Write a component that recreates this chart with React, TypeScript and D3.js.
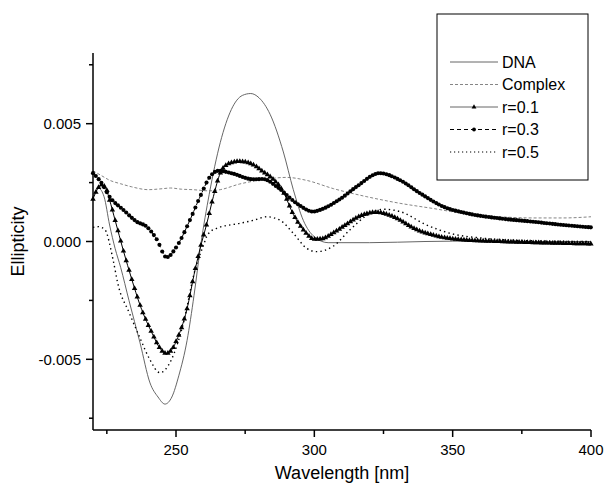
import React, { useEffect, useRef } from "react";
import * as d3 from "d3";

const W = 607;
const H = 488;

const xTicksMajor = [250, 300, 350, 400];
const xTicksMinor = [225, 275, 325, 375];
const yTicksMajor = [-0.005, 0, 0.005];
const yTickLabels = ["-0.005", "0.000", "0.005"];
const yTicksMinor = [-0.0075, -0.0025, 0.0025, 0.0075];

const dnaWl = [220, 222, 224, 226, 228, 230, 233, 237, 240.6, 243.5, 246, 248.5, 251, 254, 256.5, 259, 262, 266, 270, 274, 277, 280, 284, 288.8, 292.4, 296, 300, 305, 320, 340, 360, 380, 400];
const dnaVal = [0.0019, 0.00226, 0.0019, 0.0007, -0.0003, -0.0011, -0.0025, -0.0043, -0.006, -0.0066, -0.0069, -0.0066, -0.0057, -0.0042, -0.0023, -0.0001, 0.002, 0.0042, 0.0056, 0.0062, 0.00628, 0.0061, 0.0054, 0.0038, 0.0022, 0.0009, 0.0002, -0.00005, -0.00005, 0, 0.00002, 0, 0];

const complexWl = [220, 223, 226, 230, 234, 240, 245, 248, 252, 256, 262, 266, 273, 280, 290, 297, 307, 319, 331, 343, 355, 367, 379, 390, 400];
const complexVal = [0.003, 0.0028, 0.0026, 0.00245, 0.00232, 0.0022, 0.00224, 0.00227, 0.00222, 0.0022, 0.00215, 0.0022, 0.00244, 0.0026, 0.00272, 0.0026, 0.00224, 0.0019, 0.00162, 0.0014, 0.00117, 0.00105, 0.001, 0.001, 0.00105];

const r01Wl = [220, 221.5, 223, 224.5, 226, 228, 231, 234, 237, 241.8, 244, 246.5, 249, 250.2, 253.9, 256.9, 258.7, 261, 263.5, 266, 269, 273, 278, 281, 284, 288.8, 292.4, 296, 300, 303, 306, 310.4, 316.5, 322.5, 328.5, 337, 345.4, 355, 367, 380, 400];
const r01Val = [0.0018, 0.0022, 0.0024, 0.0023, 0.00176, 0.0009, -0.0004, -0.0016, -0.0027, -0.004, -0.0045, -0.00475, -0.0045, -0.0042, -0.0029, -0.0012, -0.0003, 0.0007, 0.0019, 0.0029, 0.0033, 0.0034, 0.00325, 0.003, 0.00275, 0.0021, 0.00115, 0.0005, 0.0001, 0.00012, 0.0003, 0.00063, 0.00108, 0.00124, 0.00105, 0.0005, 0.0002, 0.00006, 0, -0.00005, -0.0001];

const r03Wl = [220, 223, 226, 231, 235.8, 239.4, 243, 246.6, 250.2, 255, 258.7, 262.3, 265.3, 270, 277.9, 281.5, 286.4, 293.6, 299.6, 302, 309.3, 315.3, 323.7, 331, 338.2, 346.6, 355, 367, 379, 390, 400];
const r03Val = [0.0029, 0.0025, 0.0019, 0.00134, 0.00084, 0.00063, 0.0001, -0.00067, -0.00022, 0.0009, 0.0019, 0.00275, 0.003, 0.0029, 0.00264, 0.00265, 0.00233, 0.00162, 0.00127, 0.00134, 0.0018, 0.00233, 0.0029, 0.0026, 0.00205, 0.00148, 0.0012, 0.00098, 0.00084, 0.0007, 0.0006];

const r05Wl = [220, 222, 224.3, 227.3, 229, 233, 237, 240.5, 244.2, 248.4, 252.6, 256.9, 259.8, 261.5, 264.7, 273, 278, 282.7, 287.5, 292.4, 297.2, 300.8, 306.8, 312.9, 318.9, 324.9, 331, 340.6, 349, 361, 379, 400];
const r05Val = [0.0006, 0.00063, 0.0005, -0.0008, -0.0018, -0.003, -0.0041, -0.005, -0.00557, -0.005, -0.0035, -0.0012, -0.0002, 0.0003, 0.00056, 0.00077, 0.0009, 0.00105, 0.00091, 0.00035, -0.00029, -0.00043, -0.0002, 0.0005, 0.0011, 0.00137, 0.00127, 0.0007, 0.00035, 0.00014, 0.00003, 0];

const legendLabels = ["DNA", "Complex", "r=0.1", "r=0.3", "r=0.5"];

const FONT = "'Liberation Sans', Arial, sans-serif";

const x = d3.scaleLinear().domain([220, 400]).range([93, 591]);
const y = d3.scaleLinear().domain([-0.008, 0.008]).range([430, 53]);

const toPts = (wl: number[], v: number[]) => wl.map((w, i) => [w, v[i]] as [number, number]);
const line = d3
  .line<[number, number]>()
  .x((d) => x(d[0]))
  .y((d) => y(d[1]))
  .curve(d3.curveMonotoneX);

const TRI_SIZE = 13;
const CIRC_R = 2.05;

const markerSeries = [
  { id: "r01", wl: r01Wl, val: r01Val, shape: "tri" },
  { id: "r03", wl: r03Wl, val: r03Val, shape: "circ" },
];

export default function App() {
  const ref = useRef<SVGSVGElement>(null);

  useEffect(() => {
    const svg = d3.select(ref.current);
    markerSeries.forEach((s) => {
      const node = svg.select(`#path-${s.id}`).node() as SVGPathElement;
      if (!node) return;
      const L = node.getTotalLength();
      const samples: { x: number; y: number }[] = [];
      for (let t = 0; t <= L; t += 0.25) {
        const p = node.getPointAtLength(t);
        samples.push({ x: p.x, y: p.y });
      }
      const pts: { x: number; y: number }[] = [];
      let j = 0;
      for (let wl = s.wl[0]; wl <= s.wl[s.wl.length - 1] + 1e-9; wl += 1) {
        const tx = x(wl);
        while (j < samples.length - 1 && samples[j].x < tx) j++;
        pts.push(samples[j]);
      }
      const g = svg.select(`#markers-${s.id}`);
      if (s.shape === "tri") {
        const sym = d3.symbol(d3.symbolTriangle, TRI_SIZE)();
        g.selectAll("path")
          .data(pts)
          .join("path")
          .attr("d", sym as string)
          .attr("transform", (d) => `translate(${d.x},${d.y})`)
          .attr("fill", "#000");
      } else {
        g.selectAll("circle")
          .data(pts)
          .join("circle")
          .attr("cx", (d) => d.x)
          .attr("cy", (d) => d.y)
          .attr("r", CIRC_R)
          .attr("fill", "#000");
      }
    });
  }, []);

  const legendY0 = 62;
  const legendStep = 22.5;

  return (
    <svg
      ref={ref}
      width={W}
      height={H}
      style={{ position: "absolute", left: 0, top: 0, background: "#fff" }}
      fontFamily={FONT}
    >
      <rect x={0} y={0} width={W} height={H} fill="#fff" />
      {/* series */}
      <path d={line(toPts(complexWl, complexVal)) || ""} fill="none" stroke="#777" strokeWidth={0.9} strokeDasharray="3,2" />
      <path d={line(toPts(dnaWl, dnaVal)) || ""} fill="none" stroke="#555" strokeWidth={0.9} />
      <path d={line(toPts(r05Wl, r05Val)) || ""} fill="none" stroke="#000" strokeWidth={1.4} strokeDasharray="1.4,3.2" />
      <path id="path-r01" d={line(toPts(r01Wl, r01Val)) || ""} fill="none" stroke="#000" strokeWidth={1} />
      <g id="markers-r01" />
      <path id="path-r03" d={line(toPts(r03Wl, r03Val)) || ""} fill="none" stroke="#000" strokeWidth={1} strokeDasharray="4,3" />
      <g id="markers-r03" />

      {/* axes */}
      <g stroke="#000" strokeWidth={1.5} fill="none">
        <line x1={93} y1={y.range()[1]} x2={93} y2={430} />
        <line x1={93} y1={430} x2={x.range()[1]} y2={430} />
        {yTicksMajor.map((t) => (
          <line key={"ym" + t} x1={86} x2={93} y1={y(t)} y2={y(t)} />
        ))}
        {yTicksMinor.map((t) => (
          <line key={"yn" + t} x1={89} x2={93} y1={y(t)} y2={y(t)} />
        ))}
        {xTicksMajor.map((t) => (
          <line key={"xm" + t} x1={x(t)} x2={x(t)} y1={430} y2={437} />
        ))}
        {xTicksMinor.map((t) => (
          <line key={"xn" + t} x1={x(t)} x2={x(t)} y1={430} y2={434} />
        ))}
      </g>
      <g fontSize={15} fill="#000">
        {yTicksMajor.map((t, i) => (
          <text key={"yl" + t} x={81} y={y(t)} textAnchor="end" dominantBaseline="central">
            {yTickLabels[i]}
          </text>
        ))}
        {xTicksMajor.map((t) => (
          <text key={"xl" + t} x={x(t)} y={455} textAnchor="middle">
            {t}
          </text>
        ))}
      </g>
      <text x={342} y={479} textAnchor="middle" fontSize={18} fill="#000">
        Wavelength [nm]
      </text>
      <text
        transform={`translate(24,${y(0)}) rotate(-90)`}
        textAnchor="middle"
        fontSize={18}
        fill="#000"
      >
        Ellipticity
      </text>

      {/* legend */}
      <rect x={437} y={14} width={151} height={166} fill="#fff" stroke="#000" strokeWidth={1} />
      {legendLabels.map((lab, i) => {
        const ly = legendY0 + i * legendStep;
        let sample: React.ReactNode = null;
        if (i === 0) sample = <line x1={450} x2={498} y1={ly} y2={ly} stroke="#555" strokeWidth={0.9} />;
        if (i === 1) sample = <line x1={450} x2={498} y1={ly} y2={ly} stroke="#777" strokeWidth={0.9} strokeDasharray="3,2" />;
        if (i === 2)
          sample = (
            <g>
              <line x1={450} x2={498} y1={ly} y2={ly} stroke="#555" strokeWidth={0.9} />
              <path d={d3.symbol(d3.symbolTriangle, 10)() as string} transform={`translate(474,${ly})`} fill="#000" />
            </g>
          );
        if (i === 3)
          sample = (
            <g>
              <line x1={450} x2={498} y1={ly} y2={ly} stroke="#000" strokeWidth={1} strokeDasharray="4,3" />
              <circle cx={474} cy={ly} r={1.9} fill="#000" />
            </g>
          );
        if (i === 4) sample = <line x1={450} x2={498} y1={ly} y2={ly} stroke="#000" strokeWidth={1.2} strokeDasharray="1.2,2.8" />;
        return (
          <g key={lab}>
            {sample}
            <text x={502} y={ly} dominantBaseline="central" fontSize={16} fill="#000">
              {lab}
            </text>
          </g>
        );
      })}
    </svg>
  );
}
